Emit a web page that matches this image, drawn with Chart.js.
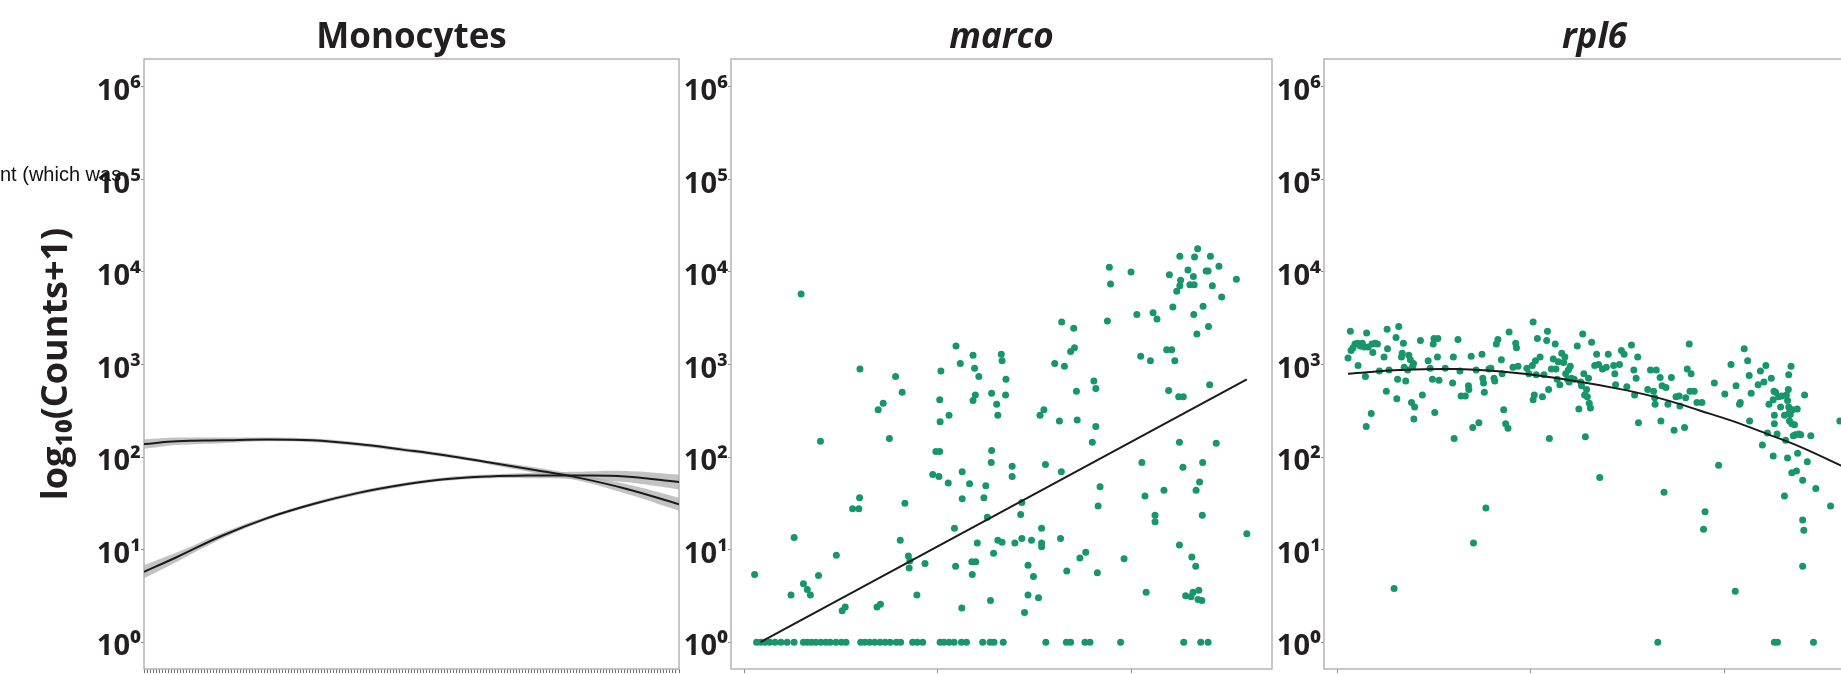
<!DOCTYPE html>
<html>
<head>
<meta charset="utf-8">
<script src="https://cdn.jsdelivr.net/npm/chart.js@4.4.1/dist/chart.umd.min.js"></script>
<style>
  html, body { margin: 0; padding: 0; background: #fff; width: 1841px; height: 674px; overflow: hidden; }
  canvas { position: absolute; top: 0; }
  #stray { position: absolute; left: 0; top: 164px; font: 20px "Liberation Sans", Arial, sans-serif; line-height: 20px; color: #111; white-space: nowrap; }
</style>
</head>
<body>
<canvas id="mono" width="690" height="674" style="left:0px"></canvas>
<canvas id="marco" width="600" height="674" style="left:680px"></canvas>
<canvas id="rpl6" width="624" height="674" style="left:1276px"></canvas>
<div id="stray">nt (which was</div>
<script>
// y is log10(Counts+1), x is cell order (pseudotime)
const yTicks = [0, 1, 2, 3, 4, 5, 6];
const supers = ['⁰', '¹', '²', '³', '⁴', '⁵', '⁶'];
const xTicks = [0, 50, 100];
const monoCellCount = 178;

// Monocytes: two fitted curves with confidence bands
const monoX = [0, 11, 26, 41, 56, 71, 86, 100, 115, 130, 144, 160, 178];
const monoFit1 = [2.14, 2.17, 2.18, 2.19, 2.18, 2.14, 2.08, 2.02, 1.94, 1.86, 1.78, 1.66, 1.49];
const monoHi1 = [2.19, 2.21, 2.21, 2.21, 2.20, 2.16, 2.10, 2.04, 1.96, 1.89, 1.81, 1.71, 1.56];
const monoLo1 = [2.09, 2.13, 2.15, 2.17, 2.16, 2.12, 2.06, 2.00, 1.92, 1.83, 1.75, 1.61, 1.42];
const monoFit2 = [0.76, 0.92, 1.15, 1.34, 1.49, 1.61, 1.70, 1.76, 1.79, 1.80, 1.80, 1.79, 1.73];
const monoHi2 = [0.83, 0.97, 1.18, 1.36, 1.51, 1.63, 1.72, 1.78, 1.81, 1.83, 1.84, 1.85, 1.81];
const monoLo2 = [0.69, 0.87, 1.12, 1.32, 1.47, 1.59, 1.68, 1.74, 1.77, 1.77, 1.76, 1.73, 1.65];

// marco: cells with zero counts, other cells, fitted line
const marcoZeroCells = [3.2, 4.3, 5.4, 6.6, 8.0, 9.5, 11.1, 12.9, 15.3, 16.3, 17.4, 18.5, 19.8, 21.1, 22.2, 23.7, 25.1, 26.3,
  30.1, 31.2, 32.4, 33.7, 35.1, 36.4, 37.7, 39.3, 40.4, 43.5, 44.7, 46.1, 50.6, 51.6, 52.9, 54.2, 56.1, 57.4, 61.6, 63.5,
  64.5, 66.9, 77.9, 83.2, 84.3, 88.0, 89.3, 97.2, 113.5, 117.9, 119.8];
const marcoCells = [
  [2.7, 0.73], [12.1, 0.51], [12.9, 1.13], [15.3, 0.63], [16.3, 0.57], [17.1, 0.51], [19.2, 0.72], [14.7, 3.76],
  [19.7, 2.17], [23.8, 0.94], [25.3, 0.34], [26.1, 0.38], [28.0, 1.44], [29.6, 1.44], [29.8, 1.56], [29.9, 2.95],
  [34.3, 0.38], [35.2, 0.41], [34.6, 2.51], [35.9, 2.58], [37.5, 2.20], [39.1, 2.87], [40.8, 2.70], [40.3, 1.10],
  [41.5, 1.50], [42.4, 0.93], [42.6, 0.80], [42.8, 0.88], [44.6, 0.51], [46.7, 0.85], [48.7, 1.81], [49.5, 2.06],
  [50.5, 2.06], [50.3, 1.79], [50.5, 2.62], [50.6, 2.38], [50.8, 2.93], [52.7, 1.72], [52.9, 2.45], [54.3, 1.23],
  [54.6, 0.82], [54.7, 3.20], [55.8, 3.01], [56.2, 0.37], [56.3, 1.84], [56.3, 1.55], [58.2, 1.71], [58.8, 0.87],
  [58.9, 0.73], [59.1, 3.10], [59.1, 2.61], [59.5, 2.96], [59.7, 2.67], [59.8, 0.87], [60.2, 1.07], [60.6, 2.87],
  [61.9, 1.56], [62.4, 1.69], [62.8, 1.35], [63.6, 0.45], [63.8, 1.94], [63.9, 2.07], [63.9, 2.69], [64.4, 0.96],
  [65.2, 2.57], [65.5, 2.45], [65.5, 1.10], [66.4, 3.11], [66.6, 3.04], [66.6, 1.08], [67.5, 2.67], [67.6, 2.84],
  [69.2, 1.90], [69.2, 1.79], [69.9, 1.07], [71.4, 1.38], [71.7, 1.51], [71.7, 1.12], [72.4, 0.32], [73.3, 0.83],
  [73.3, 0.51], [74.2, 1.10], [74.7, 0.71], [76.0, 0.48], [76.4, 2.45], [76.8, 1.23], [76.8, 1.07], [76.8, 1.03],
  [77.4, 2.51], [77.8, 1.92], [80.2, 3.01], [81.4, 2.39], [81.7, 1.12], [81.9, 1.84], [82.0, 3.46], [82.7, 2.98],
  [83.3, 0.77], [84.3, 3.14], [85.1, 3.39], [85.3, 3.18], [85.8, 2.71], [86.0, 2.40], [86.7, 0.91], [88.2, 0.97],
  [89.9, 2.16], [90.3, 2.82], [90.8, 2.74], [90.8, 2.33], [91.2, 0.75], [91.4, 1.47], [91.9, 1.68], [93.8, 3.47],
  [94.3, 4.05], [94.6, 3.87], [98.1, 0.90], [99.9, 4.00], [101.4, 3.54], [102.4, 3.09], [102.7, 1.94], [103.5, 1.58],
  [103.8, 0.54], [104.9, 3.04], [105.6, 3.56], [106.1, 1.37], [106.1, 1.30], [106.6, 3.49], [108.4, 1.64], [109.1, 3.16],
  [109.6, 2.72], [109.8, 3.97], [110.4, 3.16], [110.7, 3.62], [111.2, 3.04], [111.7, 3.79], [112.2, 2.65], [112.4, 2.16],
  [112.4, 1.05], [112.5, 4.17], [112.5, 3.85], [112.7, 3.91], [113.4, 2.65], [113.3, 1.89], [114.0, 0.50], [114.6, 4.02],
  [115.1, 3.86], [115.4, 0.49], [115.6, 0.92], [115.9, 0.54], [116.0, 3.95], [116.1, 3.54], [116.2, 3.86], [116.3, 4.16],
  [116.6, 0.82], [116.7, 1.64], [116.9, 3.33], [117.1, 4.25], [117.2, 0.46], [117.4, 0.56], [117.6, 1.73], [118.2, 0.45],
  [118.3, 1.37], [118.4, 1.94], [118.5, 3.63], [119.3, 4.01], [119.8, 4.01], [119.9, 3.41], [120.2, 2.78], [120.4, 4.17],
  [120.9, 3.85], [121.9, 2.15], [122.6, 4.06], [123.3, 3.73], [127.1, 3.92], [129.8, 1.17]
];
const marcoFit = [[4.2, 0], [129.8, 2.84]];

// rpl6: cells and fitted curve
const rpl6Cells = [
  [2.8, 3.07], [3.4, 3.36], [3.6, 3.15], [4.1, 3.18], [4.6, 3.22], [5.3, 3.23], [5.4, 2.99], [6.0, 3.20], [6.5, 3.23],
  [7.0, 3.19], [7.3, 2.87], [7.5, 2.33], [7.6, 3.34], [8.0, 3.19], [8.8, 2.47], [9.0, 3.22], [9.2, 3.13], [9.8, 3.23],
  [10.4, 3.22], [10.9, 2.93], [12.1, 3.08], [12.7, 2.71], [12.9, 3.38], [13.0, 3.17], [13.4, 2.94], [14.7, 0.58],
  [15.2, 3.29], [15.4, 2.63], [15.6, 2.84], [15.9, 3.41], [16.6, 3.08], [16.8, 3.12], [17.1, 3.23], [17.3, 2.97],
  [17.7, 2.82], [18.2, 2.94], [18.5, 3.10], [18.9, 3.05], [19.2, 2.59], [19.5, 2.98], [19.7, 3.01], [19.8, 2.41],
  [20.0, 2.54], [21.5, 3.26], [22.0, 2.67], [23.5, 3.04], [24.0, 2.96], [24.6, 2.84], [24.8, 3.22], [25.0, 3.28],
  [25.2, 2.48], [25.9, 3.08], [26.0, 3.28], [26.3, 2.83], [27.9, 2.96], [29.8, 2.80], [30.0, 3.08], [30.2, 2.20],
  [31.2, 3.27], [31.7, 2.93], [32.0, 2.66], [33.1, 2.66], [33.9, 2.77], [34.0, 2.73], [34.6, 3.09], [35.0, 2.32],
  [35.2, 1.07], [35.9, 2.94], [36.6, 2.37], [37.4, 3.11], [37.6, 2.85], [37.8, 2.80], [38.0, 2.70], [38.4, 1.45],
  [39.2, 2.95], [39.7, 2.96], [40.5, 2.85], [40.7, 2.82], [41.1, 3.22], [41.5, 3.27], [42.4, 3.05], [42.6, 2.90],
  [43.0, 2.51], [43.5, 2.36], [44.1, 2.31], [44.4, 3.35], [45.4, 2.97], [46.1, 3.23], [46.3, 3.18], [46.7, 2.98],
  [49.0, 2.96], [49.5, 2.90], [50.4, 2.99], [50.6, 3.46], [50.6, 2.62], [50.9, 2.67], [51.2, 3.04], [51.4, 2.89],
  [51.7, 3.28], [52.4, 3.08], [53.0, 2.65], [53.4, 2.89], [54.1, 3.26], [54.3, 3.36], [54.6, 2.73], [54.8, 2.20],
  [55.3, 2.95], [55.8, 3.06], [56.3, 3.22], [56.5, 2.95], [56.8, 2.84], [57.1, 3.03], [57.5, 2.78], [58.0, 3.12],
  [58.5, 3.02], [58.8, 3.08], [59.0, 2.90], [59.5, 2.84], [59.7, 2.94], [59.9, 2.81], [60.2, 2.98], [60.5, 2.85],
  [61.2, 2.84], [62.0, 3.20], [62.4, 2.52], [62.9, 2.81], [63.1, 2.77], [63.4, 3.33], [63.7, 2.90], [63.9, 2.67],
  [64.1, 2.22], [64.4, 2.73], [64.6, 2.65], [64.9, 2.85], [65.1, 2.58], [65.4, 2.53], [65.7, 3.24], [66.5, 2.99],
  [67.0, 3.11], [67.5, 3.00], [67.8, 1.78], [68.5, 2.95], [69.5, 2.97], [70.0, 3.11], [71.4, 2.99], [71.7, 2.90],
  [71.9, 2.78], [72.9, 3.00], [73.4, 3.15], [74.1, 3.11], [74.8, 2.76], [76.0, 3.21], [76.6, 2.94], [76.8, 2.67],
  [77.2, 2.85], [77.6, 3.08], [77.8, 2.37], [80.2, 2.73], [80.9, 2.94], [81.7, 2.71], [82.0, 2.64], [82.1, 2.57],
  [82.4, 2.94], [82.8, 0.00], [83.4, 2.86], [83.6, 2.39], [83.9, 2.77], [84.4, 1.62], [84.9, 2.75], [85.4, 2.57],
  [86.3, 2.86], [87.0, 2.29], [87.5, 2.65], [88.3, 2.66], [88.5, 2.55], [89.7, 2.32], [90.0, 2.64], [90.4, 2.95],
  [90.9, 3.22], [91.1, 2.71], [91.4, 2.90], [92.2, 2.71], [92.9, 2.59],
  [94.2, 2.59], [95.0, 1.41], [94.6, 1.22], [97.4, 2.80], [98.5, 1.91], [100.1, 2.68], [101.7, 3.00], [102.8, 0.55],
  [103.0, 2.77], [103.9, 2.57], [104.1, 2.59], [105.1, 3.17], [106.0, 3.04], [106.4, 2.88], [106.5, 2.39], [106.9, 2.69],
  [108.7, 2.78], [109.3, 2.93], [109.8, 2.13], [110.2, 2.81], [110.7, 2.99], [111.1, 2.26], [111.5, 2.57], [112.1, 2.85],
  [112.6, 2.62], [112.6, 2.01], [112.8, 2.71], [112.9, 2.45], [112.9, 2.36], [112.9, 0.00], [113.2, 2.70], [113.6, 2.25],
  [113.7, 0.00], [114.0, 2.65], [114.5, 2.54], [114.8, 2.66], [115.5, 2.45], [115.5, 1.58], [115.8, 2.18], [116.0, 2.67],
  [116.3, 1.99], [116.3, 2.61], [116.5, 2.73], [116.6, 2.89], [116.6, 2.54], [116.8, 2.48], [117.0, 2.46], [117.2, 2.98],
  [116.8, 2.39], [117.4, 1.83], [117.4, 2.36], [117.6, 2.51], [117.8, 2.23], [118.1, 2.35], [118.3, 2.24], [118.6, 1.85],
  [118.8, 2.52], [118.9, 2.04], [119.2, 2.25], [119.7, 2.24], [120.2, 1.75], [120.2, 1.32], [120.5, 1.21], [120.2, 0.82],
  [120.7, 2.67], [121.4, 1.95], [122.3, 2.23], [123.0, 0.00], [123.6, 1.66], [127.4, 1.47], [129.8, 2.39]
];
const rpl6Fit = [[2.8, 2.90], [16.3, 2.94], [30.9, 2.95], [45.6, 2.91], [60.2, 2.83], [74.8, 2.72], [84.6, 2.62],
  [93.8, 2.50], [102, 2.39], [111, 2.25], [119.6, 2.11], [131, 1.89]];

const ink = '#231f20';
const green = '#17966b';
const frameColor = '#b4b4b4';
const tickColor = '#8a8a8a';

const framePlugin = {
  id: 'frame',
  beforeDatasetsDraw(chart) {
    const {ctx, chartArea: a} = chart;
    ctx.save();
    ctx.strokeStyle = frameColor;
    ctx.lineWidth = 1.5;
    ctx.strokeRect(a.left, a.top, a.right - a.left, a.bottom - a.top);
    ctx.restore();
  }
};

function yScale(width, showTitle) {
  return {
    type: 'linear', min: -0.29, max: 6.3,
    afterBuildTicks: s => { s.ticks = yTicks.map(v => ({value: v})); },
    afterFit: s => { s.width = width; s.paddingTop = 0; s.paddingBottom = 0; },
    grid: {drawOnChartArea: false, drawTicks: true, tickLength: 3, color: tickColor, lineWidth: 1},
    border: {display: false},
    ticks: {padding: 0, labelOffset: 5, color: ink, font: {family: 'Open Sans', weight: 'bold', size: 29},
      callback: v => '10' + supers[v]},
    title: {display: showTitle, text: 'log₁₀(Counts+1)', color: ink,
      font: {family: 'Open Sans', weight: 'bold', size: 36}, padding: {top: 35, bottom: 0}}
  };
}

function xScale(min, max, tickValues, color) {
  return {
    type: 'linear', min: min, max: max,
    afterBuildTicks: s => { s.ticks = tickValues.map(v => ({value: v})); },
    afterFit: s => { s.height = 5; },
    grid: {drawOnChartArea: false, drawTicks: true, tickLength: 4, color: color, lineWidth: 1},
    border: {display: false},
    ticks: {display: false}
  };
}

function titleOpts(text, italic) {
  return {display: true, text: text, fullSize: false, color: ink,
    font: {family: 'Open Sans', weight: 'bold', size: 35, lineHeight: 1, style: italic ? 'italic' : 'normal'},
    padding: {top: 21, bottom: 3}};
}

function baseOptions(title, italic, yWidth, showYTitle, padRight, x) {
  return {
    responsive: false, animation: false,
    layout: {padding: {left: 0, right: padRight, top: 0, bottom: 0}},
    plugins: {legend: {display: false}, tooltip: {enabled: false}, title: titleOpts(title, italic)},
    scales: {x: x, y: yScale(yWidth, showYTitle)}
  };
}

const pts = arr => arr.map(p => ({x: p[0], y: p[1]}));
const zip = (xs, ys) => xs.map((x, i) => ({x: x, y: ys[i]}));
const fitLine = (data, tension) => ({data: data, showLine: true, borderColor: '#1a1a1a', borderWidth: 2,
  pointRadius: 0, tension: tension, fill: false});
const band = (data, fill) => ({data: data, showLine: true, borderWidth: 0, borderColor: 'rgba(0,0,0,0)',
  backgroundColor: 'rgba(175,175,175,0.75)', pointRadius: 0, tension: 0.4, fill: fill});
const dots = data => ({data: data, pointRadius: 3.5, pointBackgroundColor: green, pointBorderWidth: 0,
  pointHoverRadius: 3.5, showLine: false});

const monoTicks = Array.from({length: monoCellCount + 1}, (_, i) => i);

new Chart(document.getElementById('mono'), {
  type: 'scatter',
  data: {datasets: [
    fitLine(zip(monoX, monoFit1), 0.4),
    fitLine(zip(monoX, monoFit2), 0.4),
    band(zip(monoX, monoHi1), '+1'),
    band(zip(monoX, monoLo1), false),
    band(zip(monoX, monoHi2), '+1'),
    band(zip(monoX, monoLo2), false)
  ]},
  options: baseOptions('Monocytes', false, 144, true, 11, xScale(0, monoCellCount, monoTicks, '#707070')),
  plugins: [framePlugin]
});

new Chart(document.getElementById('marco'), {
  type: 'scatter',
  data: {datasets: [
    fitLine(pts(marcoFit), 0),
    dots(pts(marcoCells)),
    dots(marcoZeroCells.map(x => ({x: x, y: 0})))
  ]},
  options: baseOptions('marco', true, 51, false, 8, xScale(-3.4, 136.3, xTicks, tickColor)),
  plugins: [framePlugin]
});

new Chart(document.getElementById('rpl6'), {
  type: 'scatter',
  data: {datasets: [
    fitLine(pts(rpl6Fit), 0.4),
    dots(pts(rpl6Cells))
  ]},
  options: baseOptions('rpl6', true, 48, false, 35, xScale(-3.4, 136.3, xTicks, tickColor)),
  plugins: [framePlugin]
});
</script>
</body>
</html>
